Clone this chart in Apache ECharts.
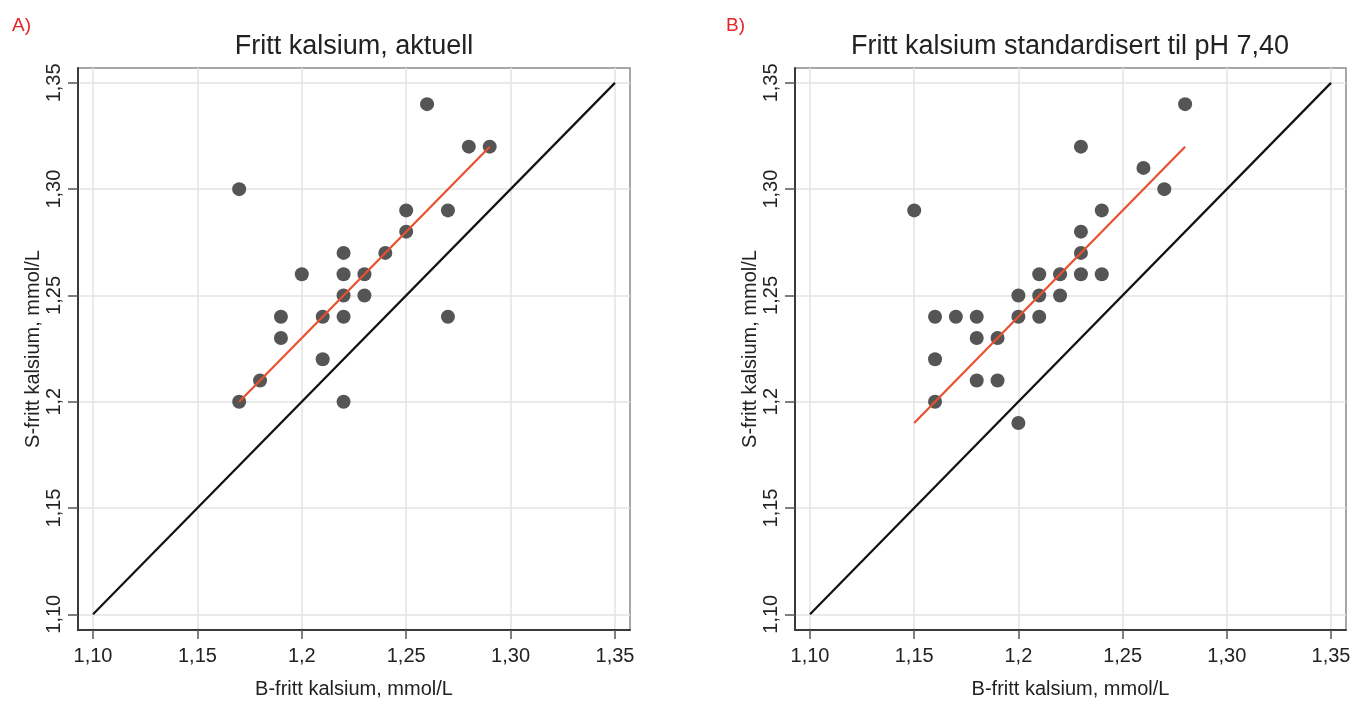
<!DOCTYPE html>
<html><head><meta charset="utf-8">
<script src="https://cdn.jsdelivr.net/npm/echarts@6/dist/echarts.min.js"></script>
<style>html,body{margin:0;padding:0;background:#fff}#c{width:1355px;height:704px}</style>
</head><body><div id="c"></div>
<script>
// ---- data ----
const tickValues = [1.10, 1.15, 1.20, 1.25, 1.30, 1.35];
const tickLabels = ['1,10', '1,15', '1,2', '1,25', '1,30', '1,35'];
const pointsA = [
  [1.26,1.34],[1.28,1.32],[1.29,1.32],[1.17,1.30],[1.25,1.29],[1.27,1.29],
  [1.25,1.28],[1.22,1.27],[1.24,1.27],[1.20,1.26],[1.22,1.26],[1.23,1.26],
  [1.22,1.25],[1.23,1.25],[1.19,1.24],[1.21,1.24],[1.22,1.24],[1.27,1.24],
  [1.19,1.23],[1.21,1.22],[1.18,1.21],[1.17,1.20],[1.22,1.20]
];
const pointsB = [
  [1.28,1.34],[1.23,1.32],[1.26,1.31],[1.27,1.30],[1.15,1.29],[1.24,1.29],
  [1.23,1.28],[1.23,1.27],[1.21,1.26],[1.22,1.26],[1.23,1.26],[1.24,1.26],
  [1.20,1.25],[1.21,1.25],[1.22,1.25],[1.16,1.24],[1.17,1.24],[1.18,1.24],
  [1.20,1.24],[1.21,1.24],[1.18,1.23],[1.19,1.23],[1.16,1.22],[1.18,1.21],
  [1.19,1.21],[1.16,1.20],[1.20,1.19]
];
const identityLine = [[1.10,1.10],[1.35,1.35]];
const fitA = [[1.17,1.20],[1.29,1.32]];
const fitB = [[1.15,1.19],[1.28,1.32]];
const titles = ['Fritt kalsium, aktuell', 'Fritt kalsium standardisert til pH 7,40'];
const panelTags = ['A)', 'B)'];
const xName = 'B-fritt kalsium, mmol/L';
const yName = 'S-fritt kalsium, mmol/L';

// ---- chart ----
const FONT = '"Liberation Sans", Arial, Helvetica, sans-serif';
const chart = echarts.init(document.getElementById('c'), null, {renderer: 'canvas'});
const fmt = v => { const i = tickValues.findIndex(t => Math.abs(t - v) < 1e-6); return i >= 0 ? tickLabels[i] : ''; };
const grids = [
  {left: 78, top: 68, width: 552, height: 569},
  {left: 795, top: 68, width: 551, height: 569}
];
function xAx(i) {
  return {
    gridIndex: i, type: 'value', min: 1.0928, max: 1.3572,
    name: xName, nameLocation: 'middle', nameGap: 49,
    nameTextStyle: {fontFamily: FONT, fontSize: 20, color: '#222'},
    axisLine: {show: true, lineStyle: {color: '#3a3a3a', width: 2}},
    axisTick: {show: true, length: 9, customValues: tickValues, lineStyle: {color: '#555', width: 1.5}},
    axisLabel: {customValues: tickValues, formatter: fmt, margin: 16, fontFamily: FONT, fontSize: 20, color: '#222'},
    splitLine: {show: true, lineStyle: {color: '#e3e3e3', width: 1.5}}
  };
}
function yAx(i) {
  return {
    gridIndex: i, type: 'value', min: 1.0926, max: 1.3570,
    name: yName, nameLocation: 'middle', nameGap: 27,
    nameTextStyle: {fontFamily: FONT, fontSize: 20, color: '#222'},
    axisLine: {show: true, lineStyle: {color: '#3a3a3a', width: 2}},
    axisTick: {show: true, length: 10, customValues: tickValues, lineStyle: {color: '#555', width: 1.5}},
    axisLabel: {customValues: tickValues, formatter: fmt, rotate: 90, margin: 14, fontFamily: FONT, fontSize: 20, color: '#222'},
    splitLine: {show: true, lineStyle: {color: '#e3e3e3', width: 1.5}}
  };
}
function scatter(i, data) {
  return {type: 'scatter', xAxisIndex: i, yAxisIndex: i, data: data, symbolSize: 14,
    itemStyle: {color: '#555555', opacity: 1}, z: 2, silent: true};
}
function line(i, data, color) {
  return {type: 'line', xAxisIndex: i, yAxisIndex: i, data: data, symbol: 'none',
    lineStyle: {color: color, width: 2.2}, z: 3, silent: true, animation: false};
}
const option = {
  animation: false,
  backgroundColor: '#fff',
  grid: grids.map(g => Object.assign({show: true, borderColor: '#8a8a8a', borderWidth: 1.5, backgroundColor: 'transparent'}, g)),
  xAxis: [xAx(0), xAx(1)],
  yAxis: [yAx(0), yAx(1)],
  series: [
    scatter(0, pointsA), line(0, identityLine, '#111'), line(0, fitA, '#e8502f'),
    scatter(1, pointsB), line(1, identityLine, '#111'), line(1, fitB, '#e8502f')
  ],
  graphic: [
    {type: 'text', x: 354, y: 47, style: {text: titles[0], font: '27px ' + FONT, fill: '#222', textAlign: 'center', textVerticalAlign: 'middle'}},
    {type: 'text', x: 1070, y: 47, style: {text: titles[1], font: '27px ' + FONT, fill: '#222', textAlign: 'center', textVerticalAlign: 'middle'}},
    {type: 'text', x: 12, y: 26, style: {text: panelTags[0], font: '19px ' + FONT, fill: '#e3262a', textAlign: 'left', textVerticalAlign: 'middle'}},
    {type: 'text', x: 726, y: 26, style: {text: panelTags[1], font: '19px ' + FONT, fill: '#e3262a', textAlign: 'left', textVerticalAlign: 'middle'}}
  ]
};
chart.setOption(option);
</script>
</body></html>
